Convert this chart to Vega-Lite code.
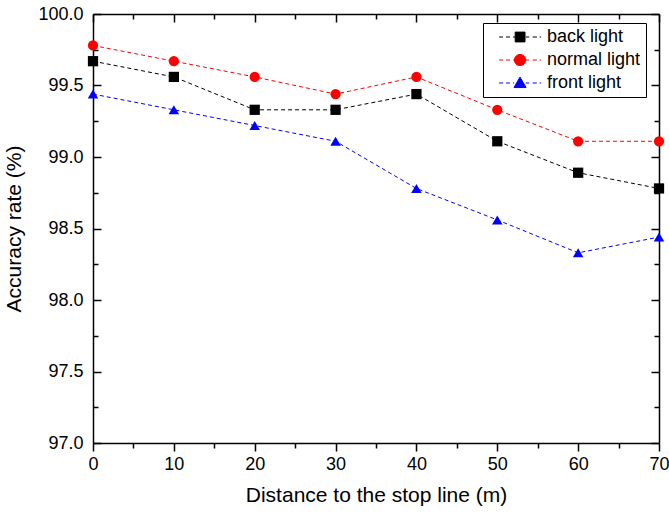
{
  "$schema": "https://vega.github.io/schema/vega-lite/v6.json",
  "width": 566,
  "height": 429,
  "autosize": "none",
  "padding": {"left": 93, "top": 14, "right": 10, "bottom": 74},
  "config": {
    "view": {"stroke": null},
    "font": "Liberation Sans",
    "axis": {
      "grid": false,
      "domainColor": "black",
      "domainWidth": 1.5,
      "tickColor": "black",
      "tickWidth": 1.5,
      "labelColor": "black",
      "titleColor": "black",
      "labelFontSize": 18,
      "titleFontSize": 21,
      "titleFontWeight": "normal",
      "labelFlush": false
    }
  },
  "data": {
    "values": [
      {"d": 0, "series": "back light", "acc": 99.67},
      {"d": 10, "series": "back light", "acc": 99.56},
      {"d": 20, "series": "back light", "acc": 99.33},
      {"d": 30, "series": "back light", "acc": 99.33},
      {"d": 40, "series": "back light", "acc": 99.44},
      {"d": 50, "series": "back light", "acc": 99.11},
      {"d": 60, "series": "back light", "acc": 98.89},
      {"d": 70, "series": "back light", "acc": 98.78},
      {"d": 0, "series": "normal light", "acc": 99.78},
      {"d": 10, "series": "normal light", "acc": 99.67},
      {"d": 20, "series": "normal light", "acc": 99.56},
      {"d": 30, "series": "normal light", "acc": 99.44},
      {"d": 40, "series": "normal light", "acc": 99.56},
      {"d": 50, "series": "normal light", "acc": 99.33},
      {"d": 60, "series": "normal light", "acc": 99.11},
      {"d": 70, "series": "normal light", "acc": 99.11},
      {"d": 0, "series": "front light", "acc": 99.44},
      {"d": 10, "series": "front light", "acc": 99.33},
      {"d": 20, "series": "front light", "acc": 99.22},
      {"d": 30, "series": "front light", "acc": 99.11},
      {"d": 40, "series": "front light", "acc": 98.78},
      {"d": 50, "series": "front light", "acc": 98.56},
      {"d": 60, "series": "front light", "acc": 98.33},
      {"d": 70, "series": "front light", "acc": 98.44}
    ]
  },
  "layer": [
    {
      "mark": {"type": "line", "strokeWidth": 1, "strokeDash": [4, 3]},
      "encoding": {
        "x": {
          "field": "d", "type": "quantitative",
          "scale": {"domain": [0, 70], "nice": false},
          "axis": {"orient": "bottom", "values": [0, 10, 20, 30, 40, 50, 60, 70], "tickSize": 8, "labelPadding": 4, "title": "Distance to the stop line (m)", "titlePadding": 11}
        },
        "y": {
          "field": "acc", "type": "quantitative",
          "scale": {"domain": [97, 100], "nice": false, "zero": false},
          "axis": {"orient": "left", "values": [97, 97.5, 98, 98.5, 99, 99.5, 100], "format": ".1f", "tickSize": -8, "labelPadding": 18, "title": "Accuracy rate (%)", "titlePadding": 13}
        },
        "color": {
          "field": "series", "type": "nominal",
          "scale": {"domain": ["back light", "normal light", "front light"], "range": ["#000000", "#ff0000", "#0000ff"]},
          "legend": {
            "orient": "none", "legendX": 390, "legendY": 9, "title": null,
            "strokeColor": "black", "fillColor": "white", "padding": 5,
            "labelFontSize": 18, "labelColor": "black", "rowPadding": 5,
            "symbolSize": 196, "labelOffset": 41,
            "encode": {
              "symbols": {
                "update": {
                  "shape": {"signal": "datum.value === 'back light' ? 'M0.3,0H0.86M1.29,0H1.86M2.29,0H2.57M4.1,0H4.6M5.1,0H5.7M6.1,0H6.3M2.6,-0.7H4V0.7H2.6Z' : datum.value === 'normal light' ? 'M0.3,0H0.86M1.29,0H1.86M2.29,0H2.49M4.1,0H4.6M5.1,0H5.7M6.1,0H6.3M2.49,0A0.8,0.8,0,1,0,4.09,0A0.8,0.8,0,1,0,2.49,0Z' : 'M0.3,0H0.86M1.29,0H1.86M2.29,0H2.45M4.1,0H4.6M5.1,0H5.7M6.1,0H6.3M3.29,-0.85L4.15,0.65L2.43,0.65Z'"},
                  "fill": {"scale": "color", "field": "value"},
                  "stroke": {"scale": "color", "field": "value"},
                  "strokeWidth": {"value": 1},
                  "opacity": {"value": 1}
                }
              }
            }
          }
        }
      }
    },
    {
      "transform": [{"filter": "datum.series === 'back light'"}],
      "mark": {"type": "point", "shape": "square", "filled": true, "opacity": 1, "size": 105, "color": "#000000"},
      "encoding": {
        "x": {"field": "d", "type": "quantitative", "axis": null},
        "y": {"field": "acc", "type": "quantitative", "axis": null}
      }
    },
    {
      "transform": [{"filter": "datum.series === 'normal light'"}],
      "mark": {"type": "point", "shape": "circle", "filled": true, "opacity": 1, "size": 105, "color": "#ff0000"},
      "encoding": {
        "x": {"field": "d", "type": "quantitative", "axis": null},
        "y": {"field": "acc", "type": "quantitative", "axis": null}
      }
    },
    {
      "transform": [{"filter": "datum.series === 'front light'"}],
      "mark": {"type": "point", "shape": "triangle-up", "filled": true, "opacity": 1, "size": 110, "color": "#0000ff"},
      "encoding": {
        "x": {"field": "d", "type": "quantitative", "axis": null},
        "y": {"field": "acc", "type": "quantitative", "axis": null}
      }
    },
    {
      "mark": {"type": "point", "opacity": 0},
      "encoding": {
        "x": {"field": "d", "type": "quantitative", "axis": {"orient": "top", "values": [0, 10, 20, 30, 40, 50, 60, 70], "tickSize": -8, "labels": false, "title": null}},
        "y": {"field": "acc", "type": "quantitative", "axis": {"orient": "right", "values": [97, 97.5, 98, 98.5, 99, 99.5, 100], "tickSize": -8, "labels": false, "title": null}}
      }
    },
    {
      "mark": {"type": "point", "opacity": 0},
      "encoding": {
        "x": {"field": "d", "type": "quantitative", "axis": {"orient": "bottom", "values": [5, 15, 25, 35, 45, 55, 65], "tickSize": 5, "labels": false, "domain": false, "title": null}},
        "y": {"field": "acc", "type": "quantitative", "axis": {"orient": "left", "values": [97.25, 97.75, 98.25, 98.75, 99.25, 99.75], "tickSize": -5, "labels": false, "domain": false, "title": null}}
      }
    },
    {
      "mark": {"type": "point", "opacity": 0},
      "encoding": {
        "x": {"field": "d", "type": "quantitative", "axis": {"orient": "top", "values": [5, 15, 25, 35, 45, 55, 65], "tickSize": -5, "labels": false, "domain": false, "title": null}},
        "y": {"field": "acc", "type": "quantitative", "axis": {"orient": "right", "values": [97.25, 97.75, 98.25, 98.75, 99.25, 99.75], "tickSize": -5, "labels": false, "domain": false, "title": null}}
      }
    }
  ],
  "resolve": {"axis": {"x": "independent", "y": "independent"}}
}
